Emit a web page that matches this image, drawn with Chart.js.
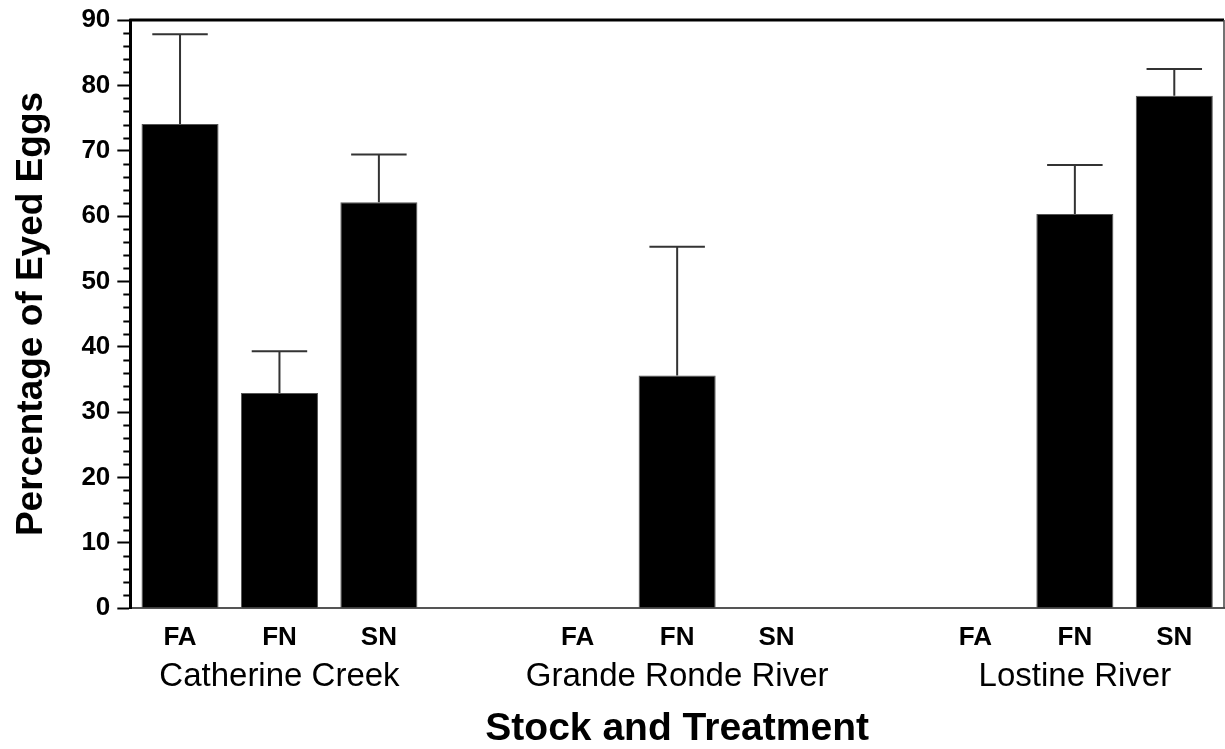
<!DOCTYPE html>
<html>
<head>
<meta charset="utf-8">
<script src="https://cdn.jsdelivr.net/npm/chart.js@4.4.0/dist/chart.umd.min.js"></script>
<style>
  html, body { margin: 0; padding: 0; background: #ffffff; }
  #wrap { width: 1225px; height: 749px; }
</style>
</head>
<body>
<div id="wrap"><canvas id="eggChart" width="1225" height="749"></canvas></div>
<script>
// ============================================
// データ
// 11スロット：3グループ×3処理＋グループ間の空き2つ
// ============================================
const treatments = ["FA", "FN", "SN", "", "FA", "FN", "SN", "", "FA", "FN", "SN"];
const groupLabels = ["", "Catherine Creek", "", "", "", "Grande Ronde River", "", "", "", "Lostine River", ""];
const meanValues = [74.1, 32.9, 62.1, null, null, 35.6, null, null, null, 60.3, 78.4];
const upperValues = [87.8, 39.3, 69.4, null, null, 55.3, null, null, null, 67.8, 82.5];
const yTicks = [0, 10, 20, 30, 40, 50, 60, 70, 80, 90];
const yMinorStep = 2;

const FONT = "Liberation Sans, Arial, sans-serif";

// ============================================
// 誤差線（上側のみ）と枠線、y軸の小目盛りを描くプラグイン
// ============================================
const extrasPlugin = {
  id: "extras",
  afterDatasetsDraw(chart) {
    const ctx = chart.ctx;
    const y = chart.scales.y;
    const meta = chart.getDatasetMeta(0);
    ctx.save();
    ctx.strokeStyle = "#333333";
    ctx.lineWidth = 2;
    upperValues.forEach((up, i) => {
      if (up === null || meanValues[i] === null) return;
      const bar = meta.data[i];
      const px = bar.x;
      const capHalf = bar.width * 0.36;
      const yTop = y.getPixelForValue(up);
      const yBar = y.getPixelForValue(meanValues[i]);
      ctx.beginPath();
      ctx.moveTo(px, yBar);
      ctx.lineTo(px, yTop);
      ctx.moveTo(px - capHalf, yTop);
      ctx.lineTo(px + capHalf, yTop);
      ctx.stroke();
    });
    ctx.restore();
  },
  afterDraw(chart) {
    const ctx = chart.ctx;
    const area = chart.chartArea;
    const y = chart.scales.y;
    ctx.save();
    // 上の太い枠線
    ctx.strokeStyle = "#000000";
    ctx.lineWidth = 3;
    ctx.beginPath();
    ctx.moveTo(area.left - 1, area.top);
    ctx.lineTo(area.right, area.top);
    ctx.stroke();
    // 右の細い枠線
    ctx.strokeStyle = "#444444";
    ctx.lineWidth = 1.5;
    ctx.beginPath();
    ctx.moveTo(area.right, area.top);
    ctx.lineTo(area.right, area.bottom);
    ctx.stroke();
    // y軸の小目盛り（2刻み）
    ctx.strokeStyle = "#000000";
    ctx.lineWidth = 2;
    for (let v = 0; v <= 90; v += yMinorStep) {
      if (v % 10 === 0) continue;
      const py = Math.round(y.getPixelForValue(v)) + 0.5;
      ctx.beginPath();
      ctx.moveTo(area.left - 7, py);
      ctx.lineTo(area.left, py);
      ctx.stroke();
    }
    ctx.restore();
  },
};

// ============================================
// グラフ本体
// ============================================
function drawEggChart() {
  const ctx = document.getElementById("eggChart").getContext("2d");
  new Chart(ctx, {
    type: "bar",
    data: {
      labels: treatments,
      datasets: [
        {
          label: "Percentage of Eyed Eggs",
          data: meanValues,
          backgroundColor: "#000000",
          borderColor: "#555555",
          borderWidth: 1,
          categoryPercentage: 1.0,
          barPercentage: 0.775,
        },
      ],
    },
    options: {
      responsive: false,
      animation: false,
      layout: { padding: { left: 10, right: 1, top: 15, bottom: 0 } },
      plugins: { legend: { display: false }, tooltip: { enabled: false } },
      scales: {
        x: {
          type: "category",
          position: "bottom",
          // 目盛り線は描かず、tickLengthでラベル位置だけ下げる
          grid: { display: false, drawTicks: true, tickLength: 16 },
          border: { display: true, color: "#555555", width: 2 },
          ticks: {
            color: "#000000",
            font: { family: FONT, size: 26, weight: "bold", lineHeight: 1 },
            padding: 1,
            maxRotation: 0,
            autoSkip: false,
          },
        },
        xGroup: {
          type: "category",
          position: "bottom",
          labels: groupLabels,
          grid: { display: false, drawTicks: false },
          border: { display: false },
          ticks: {
            color: "#000000",
            font: { family: FONT, size: 33, lineHeight: 1 },
            padding: 8,
            maxRotation: 0,
            autoSkip: false,
          },
          title: {
            display: true,
            text: "Stock and Treatment",
            color: "#000000",
            font: { family: FONT, size: 39, weight: "bold", lineHeight: 1 },
            padding: { top: 9, bottom: 0 },
          },
        },
        y: {
          min: 0,
          max: 90,
          afterBuildTicks: (axis) => {
            axis.ticks = yTicks.map((v) => ({ value: v }));
          },
          grid: {
            drawOnChartArea: false,
            drawTicks: true,
            tickLength: 13,
            tickColor: "#000000",
            tickWidth: 2,
          },
          border: { display: true, color: "#000000", width: 3 },
          ticks: {
            color: "#000000",
            font: { family: FONT, size: 26, weight: "bold", lineHeight: 1 },
            padding: 7,
          },
          title: {
            display: true,
            text: "Percentage of Eyed Eggs",
            color: "#000000",
            font: { family: FONT, size: 37, weight: "bold" },
            padding: { top: 0, bottom: 20 },
          },
        },
      },
    },
    plugins: [extrasPlugin],
  });
}

drawEggChart();
</script>
</body>
</html>
